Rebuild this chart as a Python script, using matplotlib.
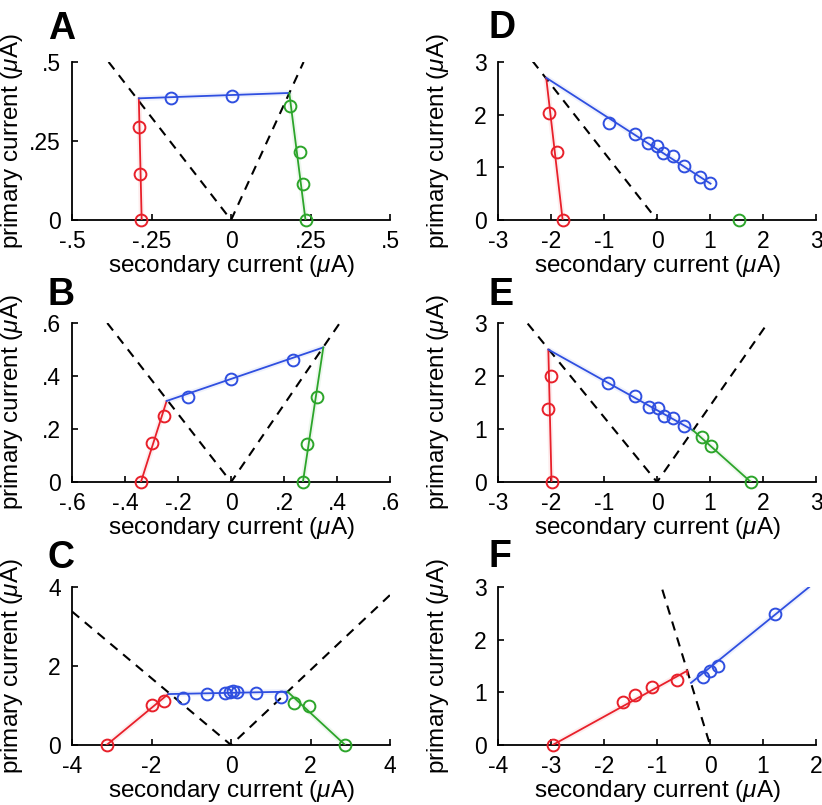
import matplotlib

matplotlib.use("Agg")
import matplotlib.pyplot as plt

plt.rcParams["font.family"] = ["Liberation Sans", "DejaVu Sans"]
plt.rcParams["mathtext.fontset"] = "custom"
plt.rcParams["mathtext.rm"] = "Liberation Sans"
plt.rcParams["mathtext.it"] = "Liberation Sans:italic"

RED = "#e8202a"
BLUE = "#2f4fe0"
GREEN = "#2ca52a"

# ---- panel A ----
a_xticks = [-0.5, -0.25, 0, 0.25, 0.5]
a_xticklabels = ["-.5", "-.25", "0", ".25", ".5"]
a_yticks = [0, 0.25, 0.5]
a_yticklabels = ["0", ".25", ".5"]
a_bound_x = [-0.385, 0, 0.228]
a_bound_y = [0.5, 0, 0.5]
a_red_fit = ([-0.29, -0.281], [0.385, 0.0])
a_blue_fit = ([-0.29, 0.183], [0.385, 0.402])
a_green_fit = ([0.183, 0.234], [0.402, 0.0])
a_red_x = [-0.29, -0.287, -0.283]
a_red_y = [0.295, 0.146, 0.0]
a_blue_x = [-0.19, 0.003]
a_blue_y = [0.387, 0.393]
a_green_x = [0.185, 0.216, 0.227, 0.234]
a_green_y = [0.361, 0.216, 0.115, 0.0]

# ---- panel B ----
b_xticks = [-0.6, -0.4, -0.2, 0, 0.2, 0.4, 0.6]
b_xticklabels = ["-.6", "-.4", "-.2", "0", ".2", ".4", ".6"]
b_yticks = [0, 0.2, 0.4, 0.6]
b_yticklabels = ["0", ".2", ".4", ".6"]
b_bound_x = [-0.467, 0, 0.41]
b_bound_y = [0.6, 0, 0.6]
b_red_fit = ([-0.243, -0.34], [0.306, 0.0])
b_blue_fit = ([-0.243, 0.348], [0.306, 0.508])
b_green_fit = ([0.348, 0.271], [0.508, 0.0])
b_red_x = [-0.253, -0.299, -0.34]
b_red_y = [0.25, 0.146, 0.0]
b_blue_x = [-0.161, -0.001, 0.233]
b_blue_y = [0.32, 0.389, 0.46]
b_green_x = [0.326, 0.288, 0.271]
b_green_y = [0.322, 0.142, 0.0]

# ---- panel C ----
c_xticks = [-4, -2, 0, 2, 4]
c_xticklabels = ["-4", "-2", "0", "2", "4"]
c_yticks = [0, 2, 4]
c_yticklabels = ["0", "2", "4"]
c_bound_x = [-4.0, 0, 4.0]
c_bound_y = [3.38, 0, 3.8]
c_red_fit = ([-1.58, -3.13], [1.29, 0.0])
c_blue_fit = ([-1.58, 1.42], [1.29, 1.35])
c_green_fit = ([1.42, 2.87], [1.35, 0.0])
c_red_x = [-3.13, -2.0, -1.69]
c_red_y = [0.0, 1.01, 1.11]
c_blue_x = [-1.22, -0.61, -0.15, -0.025, 0.06, 0.14, 0.63, 1.25]
c_blue_y = [1.18, 1.29, 1.31, 1.35, 1.37, 1.35, 1.31, 1.22]
c_green_x = [1.59, 1.96, 2.87]
c_green_y = [1.07, 0.995, 0.0]

# ---- panel D ----
d_xticks = [-3, -2, -1, 0, 1, 2, 3]
d_xticklabels = ["-3", "-2", "-1", "0", "1", "2", "3"]
d_yticks = [0, 1, 2, 3]
d_yticklabels = ["0", "1", "2", "3"]
d_bound_x = [-2.35, 0]
d_bound_y = [3.02, 0]
d_red_fit = ([-2.09, -1.78], [2.7, 0.0])
d_blue_fit = ([-2.09, 1.01], [2.7, 0.69])
d_green_fit = None
d_red_x = [-2.03, -1.89, -1.78]
d_red_y = [2.04, 1.29, 0.0]
d_blue_x = [-0.91, -0.41, -0.164, 0.0, 0.119, 0.308, 0.504, 0.811, 1.006]
d_blue_y = [1.835, 1.63, 1.47, 1.405, 1.28, 1.215, 1.03, 0.822, 0.696]
d_green_x = [1.553]
d_green_y = [0.0]

# ---- panel E ----
e_xticks = d_xticks
e_xticklabels = d_xticklabels
e_yticks = d_yticks
e_yticklabels = d_yticklabels
e_bound_x = [-2.44, 0, 2.06]
e_bound_y = [2.99, 0, 2.96]
e_red_fit = ([-2.05, -1.99], [2.5, 0.0])
e_blue_fit = ([-2.05, 0.674], [2.5, 0.98])
e_green_fit = ([0.674, 1.77], [0.98, 0.0])
e_red_x = [-2.0, -2.05, -1.99]
e_red_y = [2.0, 1.37, 0.0]
e_blue_x = [-0.93, -0.415, -0.157, 0.013, 0.126, 0.296, 0.515]
e_blue_y = [1.86, 1.62, 1.42, 1.39, 1.25, 1.2, 1.06]
e_green_x = [0.849, 1.019, 1.77]
e_green_y = [0.843, 0.679, 0.0]

# ---- panel F ----
f_xticks = [-4, -3, -2, -1, 0, 1, 2]
f_xticklabels = ["-4", "-3", "-2", "-1", "0", "1", "2"]
f_yticks = [0, 1, 2, 3]
f_yticklabels = ["0", "1", "2", "3"]
f_bound_x = [-0.9, 0]
f_bound_y = [2.95, 0]
f_red_fit = ([-2.97, -0.43, -0.43], [0.0, 1.41, 1.34])
f_blue_fit = ([-0.36, 1.87], [1.18, 3.0])
f_green_fit = None
f_red_x = [-2.97, -1.647, -1.41, -1.1, -0.623]
f_red_y = [0.0, 0.822, 0.95, 1.107, 1.234]
f_blue_x = [-0.126, 0.006, 0.157, 1.232]
f_blue_y = [1.297, 1.41, 1.5, 2.487]
f_green_x = []
f_green_y = []

panels = [
    ("A", [0.0876, 0.7267, 0.387, 0.1963], (-0.5, 0.5), (0, 0.5),
     a_xticks, a_xticklabels, a_yticks, a_yticklabels, a_bound_x, a_bound_y,
     a_red_fit, a_blue_fit, a_green_fit,
     a_red_x, a_red_y, a_blue_x, a_blue_y, a_green_x, a_green_y),
    ("B", [0.0876, 0.4012, 0.387, 0.1975], (-0.6, 0.6), (0, 0.6),
     b_xticks, b_xticklabels, b_yticks, b_yticklabels, b_bound_x, b_bound_y,
     b_red_fit, b_blue_fit, b_green_fit,
     b_red_x, b_red_y, b_blue_x, b_blue_y, b_green_x, b_green_y),
    ("C", [0.0876, 0.0745, 0.387, 0.1963], (-4, 4), (0, 4),
     c_xticks, c_xticklabels, c_yticks, c_yticklabels, c_bound_x, c_bound_y,
     c_red_fit, c_blue_fit, c_green_fit,
     c_red_x, c_red_y, c_blue_x, c_blue_y, c_green_x, c_green_y),
    ("D", [0.6058, 0.7267, 0.387, 0.1963], (-3, 3), (0, 3),
     d_xticks, d_xticklabels, d_yticks, d_yticklabels, d_bound_x, d_bound_y,
     d_red_fit, d_blue_fit, d_green_fit,
     d_red_x, d_red_y, d_blue_x, d_blue_y, d_green_x, d_green_y),
    ("E", [0.6058, 0.4012, 0.387, 0.1975], (-3, 3), (0, 3),
     e_xticks, e_xticklabels, e_yticks, e_yticklabels, e_bound_x, e_bound_y,
     e_red_fit, e_blue_fit, e_green_fit,
     e_red_x, e_red_y, e_blue_x, e_blue_y, e_green_x, e_green_y),
    ("F", [0.6058, 0.0745, 0.387, 0.1963], (-4, 2), (0, 3),
     f_xticks, f_xticklabels, f_yticks, f_yticklabels, f_bound_x, f_bound_y,
     f_red_fit, f_blue_fit, f_green_fit,
     f_red_x, f_red_y, f_blue_x, f_blue_y, f_green_x, f_green_y),
]

letter_pos = {"A": (0.058, 0.951), "B": (0.058, 0.621), "C": (0.058, 0.295),
              "D": (0.594, 0.953), "E": (0.594, 0.621), "F": (0.594, 0.296)}

fig = plt.figure(figsize=(8.22, 8.05), dpi=100)

for (letter, rect, xlim, ylim, xt, xtl, yt, ytl, bx, by,
     rfit, bfit, gfit, rx, ry, bxs, bys, gx, gy) in panels:
    ax = fig.add_axes(rect)
    ax.plot(bx, by, color="black", lw=1.5, ls=(0, (4.5, 3.5)), zorder=1)
    for fit, col in ((rfit, RED), (bfit, BLUE), (gfit, GREEN)):
        if fit is None:
            continue
        # faint confidence band under the fit
        ax.plot(fit[0], fit[1], color=col, lw=4, alpha=0.08,
                solid_capstyle="butt", zorder=2)
        ax.plot(fit[0], fit[1], color=col, lw=1.3, zorder=3)
    for xs, ys, col in ((rx, ry, RED), (bxs, bys, BLUE), (gx, gy, GREEN)):
        ax.plot(xs, ys, ls="none", marker="o", ms=8.5, mfc="none", mec=col,
                mew=1.4, clip_on=False, zorder=4)
    ax.set_xlim(*xlim)
    ax.set_ylim(*ylim)
    ax.set_xticks(xt)
    ax.set_xticklabels(xtl)
    ax.set_yticks(yt)
    ax.set_yticklabels(ytl)
    for s in ("top", "right"):
        ax.spines[s].set_visible(False)
    for s in ("left", "bottom"):
        ax.spines[s].set_linewidth(1.3)
    ax.tick_params(direction="in", length=4, width=1.2, labelsize=16.5)
    ax.tick_params(axis="x", pad=7)
    ax.tick_params(axis="y", pad=8)
    ax.set_xlabel(r"secondary current ($\mu$A)", fontsize=17.5, va="center")
    ax.xaxis.set_label_coords(0.5, -0.29)
    ax.set_ylabel(r"primary current ($\mu$A)", fontsize=17.5, va="center")
    ax.yaxis.set_label_coords(-0.19, 0.5)
    fig.text(letter_pos[letter][0], letter_pos[letter][1], letter,
             fontsize=27, fontweight="bold", va="baseline")

fig.savefig("out.png", dpi=100)
plt.close(fig)
